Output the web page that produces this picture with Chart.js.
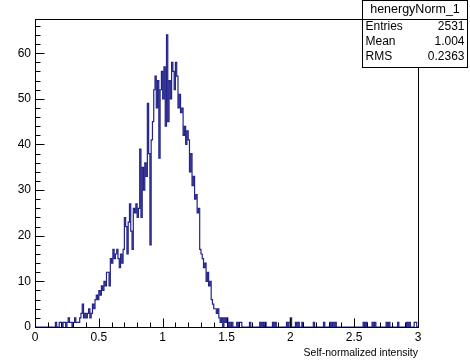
<!DOCTYPE html>
<html>
<head>
<meta charset="utf-8">
<script src="https://cdn.jsdelivr.net/npm/chart.js@4.4.1/dist/chart.umd.min.js"></script>
<style>
  body { margin: 0; background: #fff; }
  #wrap { width: 470px; height: 360px; }
</style>
</head>
<body>
<div id="wrap"><canvas id="hist" width="470" height="360"></canvas></div>
<script>
// histogram henergyNorm_1 : 300 bins from 0 to 3
var xMin = 0;
var xMax = 3;
var binWidth = 0.01;
var counts = [
    0, 0, 0, 0, 0, 0, 0, 0, 0, 0,
    0, 0, 0, 0, 0, 0, 1, 0, 0, 1,
    1, 0, 1, 1, 0, 1, 2, 1, 1, 0,
    1, 2, 1, 1, 1, 2, 3, 5, 2, 3,
    2, 3, 4, 2, 3, 5, 4, 6, 7, 6,
    8, 7, 9, 8, 10, 9, 12, 12, 9, 15,
    14, 17, 15, 16, 17, 15, 13, 16, 14, 17,
    24, 22, 16, 23, 27, 21, 17, 26, 25, 27,
    24, 26, 39, 24, 35, 30, 36, 33, 49, 38,
    18, 41, 45, 52, 55, 48, 54, 37, 52, 56,
    50, 57, 44, 64, 45, 54, 50, 58, 56, 52,
    58, 55, 48, 51, 47, 48, 42, 44, 40, 43,
    41, 34, 38, 31, 33, 28, 29, 25, 26, 17,
    16, 15, 13, 14, 10, 12, 9, 10, 6, 5,
    4, 4, 3, 4, 2, 1, 2, 0, 2, 1,
    2, 0, 1, 0, 1, 0, 0, 0, 1, 0,
    1, 1, 0, 0, 0, 0, 0, 0, 1, 0,
    0, 0, 0, 0, 0, 0, 1, 0, 1, 0,
    1, 0, 0, 0, 0, 0, 1, 0, 1, 0,
    0, 0, 0, 0, 0, 0, 0, 1, 0, 1,
    2, 0, 0, 0, 1, 0, 1, 0, 0, 1,
    0, 0, 0, 0, 0, 0, 0, 0, 1, 0,
    0, 0, 0, 0, 0, 0, 1, 0, 0, 0,
    0, 1, 0, 1, 0, 1, 0, 0, 0, 0,
    0, 0, 0, 0, 0, 0, 0, 0, 0, 0,
    0, 0, 0, 0, 0, 0, 0, 1, 0, 1,
    0, 0, 0, 0, 1, 0, 1, 0, 0, 0,
    0, 0, 0, 0, 0, 1, 0, 1, 0, 0,
    0, 0, 0, 0, 1, 0, 0, 0, 0, 0,
    0, 1, 0, 1, 0, 0, 0, 1, 1, 0
];
var yMax = 67.5;
var xTicks = [0, 0.5, 1, 1.5, 2, 2.5, 3];
var yTicks = [0, 10, 20, 30, 40, 50, 60];
var statsTitle = "henergyNorm_1";
var statsNames = ["Entries", "Mean", "RMS"];
var statsValues = ["2531", "1.004", "0.2363"];
var xTitle = "Self-normalized intensity";

// one point per bin low edge, plus the last upper edge
var points = [];
for (var i = 0; i < counts.length; i++) {
    points.push({ x: xMin + i * binWidth, y: counts[i] });
}
points.push({ x: xMax, y: counts[counts.length - 1] });

var font = "'Liberation Sans', Arial, sans-serif";

// ROOT style frame, inward ticks and the stats box
var rootFrame = {
    id: 'rootFrame',
    afterDraw: function (chart) {
        var ctx = chart.ctx;
        var a = chart.chartArea;
        var sx = chart.scales.x;
        var sy = chart.scales.y;
        ctx.save();
        ctx.strokeStyle = '#000';
        ctx.lineWidth = 1;
        var L = Math.round(a.left) + 0.5, R = Math.round(a.right) + 0.5;
        var T = Math.round(a.top) + 0.5, B = Math.round(a.bottom) + 0.5;
        ctx.strokeRect(L, T, R - L, B - T);

        ctx.beginPath();
        for (var k = 0; k <= 30; k++) {
            var px = Math.round(sx.getPixelForValue(k / 10)) + 0.5;
            var len = (k % 5 === 0) ? 9 : 5;
            ctx.moveTo(px, B);
            ctx.lineTo(px, B - len);
        }
        for (var v = 0; v <= yMax; v += 2) {
            var py = Math.round(sy.getPixelForValue(v)) + 0.5;
            var ylen = (v % 10 === 0) ? 9 : 5;
            ctx.moveTo(L, py);
            ctx.lineTo(L + ylen, py);
        }
        ctx.stroke();

        // stats box
        var bx = 362.5, by = 0.5, bw = 105, bh = 67;
        ctx.fillStyle = '#fff';
        ctx.fillRect(bx, by, bw, bh);
        ctx.strokeRect(bx, by, bw, bh);
        ctx.beginPath();
        ctx.moveTo(bx, 19.5);
        ctx.lineTo(bx + bw, 19.5);
        ctx.stroke();
        ctx.fillStyle = '#000';
        ctx.font = '12.5px ' + font;
        ctx.textBaseline = 'middle';
        ctx.textAlign = 'center';
        ctx.fillText(statsTitle, bx + bw / 2, 10);
        ctx.font = '12px ' + font;
        for (var r = 0; r < statsNames.length; r++) {
            var ty = 27 + r * 15;
            ctx.textAlign = 'left';
            ctx.fillText(statsNames[r], bx + 3, ty);
            ctx.textAlign = 'right';
            ctx.fillText(statsValues[r], bx + bw - 3, ty);
        }
        ctx.restore();
    }
};

var ctx = document.getElementById("hist").getContext("2d");
var myChart = new Chart(ctx, {
    type: 'line',
    data: {
        datasets: [{
            data: points,
            stepped: 'before',
            borderColor: '#23238a',
            borderWidth: 1.2,
            pointRadius: 0,
            fill: false
        }]
    },
    options: {
        responsive: false,
        devicePixelRatio: 1,
        animation: false,
        layout: { padding: { top: 19, right: 52, left: 0, bottom: 0 } },
        plugins: { legend: { display: false }, tooltip: { enabled: false } },
        scales: {
            x: {
                type: 'linear',
                min: xMin,
                max: xMax,
                grid: { display: false, drawTicks: false, tickLength: 0 },
                border: { display: false },
                afterBuildTicks: function (scale) {
                    scale.ticks = xTicks.map(function (t) { return { value: t }; });
                },
                ticks: {
                    padding: 3,
                    color: '#000',
                    font: { family: font, size: 12 },
                    maxRotation: 0,
                    autoSkip: false,
                    callback: function (v) { return String(v); }
                },
                title: {
                    display: true,
                    text: xTitle,
                    align: 'end',
                    color: '#000',
                    font: { family: font, size: 10.5 },
                    padding: { top: 0, bottom: 1 }
                },
                afterFit: function (scale) { scale.height = 33; }
            },
            y: {
                type: 'linear',
                min: 0,
                max: yMax,
                grid: { display: false, drawTicks: false, tickLength: 0 },
                border: { display: false },
                afterBuildTicks: function (scale) {
                    scale.ticks = yTicks.map(function (t) { return { value: t }; });
                },
                ticks: {
                    padding: 4,
                    color: '#000',
                    font: { family: font, size: 12 },
                    autoSkip: false,
                    callback: function (v) { return String(v); }
                },
                afterFit: function (scale) { scale.width = 35; }
            }
        }
    },
    plugins: [rootFrame]
});
</script>
</body>
</html>
